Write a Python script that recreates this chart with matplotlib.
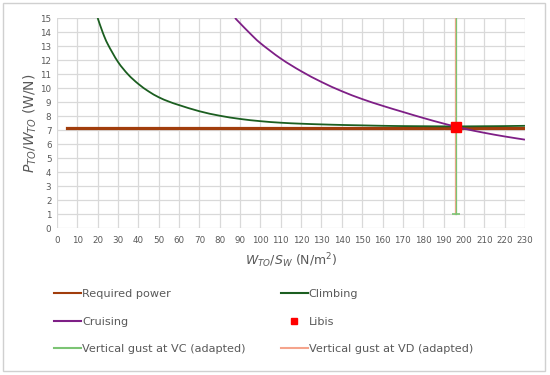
import matplotlib
matplotlib.use("Agg")
from matplotlib import pyplot as plt
from matplotlib.lines import Line2D
from matplotlib.patches import Rectangle, PathPatch
from matplotlib.path import Path

# data
req_x = [5, 230]
req_y = [7.15, 7.15]

climb_x = [20, 22.5, 25, 30, 35, 40, 45, 50, 55, 60, 70, 80, 90, 100, 110, 120,
           130, 140, 150, 160, 170, 180, 190, 200, 210, 220, 230]
climb_y = [15.0, 13.96, 13.12, 11.86, 10.96, 10.29, 9.76, 9.34, 9.03, 8.78,
           8.34, 8.02, 7.79, 7.63, 7.52, 7.45, 7.40, 7.36, 7.33, 7.30, 7.28,
           7.27, 7.26, 7.26, 7.27, 7.28, 7.30]

cruise_x = [87.5, 90, 95, 100, 110, 120, 130, 140, 150, 160, 170, 180, 190, 200,
            210, 220, 230]
cruise_y = [15.0, 14.62, 13.88, 13.2, 12.1, 11.2, 10.43, 9.77, 9.21, 8.73, 8.29,
            7.86, 7.46, 7.1, 6.8, 6.54, 6.31]

libis_x = [196]
libis_y = [7.2]

vc_x = [196.2, 196.2]
vc_y = [1, 15.5]
vd_x = [195.6, 195.6]
vd_y = [1, 15.5]


def smooth(xs, ys):
    # excel-like smoothed line: bezier through the points
    pts = list(zip(xs, ys))
    verts = [pts[0]]
    codes = [Path.MOVETO]
    for i in range(len(pts) - 1):
        p0 = pts[i - 1] if i > 0 else pts[i]
        p1 = pts[i]
        p2 = pts[i + 1]
        p3 = pts[i + 2] if i + 2 < len(pts) else p2
        c1 = (p1[0] + (p2[0] - p0[0]) / 6, p1[1] + (p2[1] - p0[1]) / 6)
        c2 = (p2[0] - (p3[0] - p1[0]) / 6, p2[1] - (p3[1] - p1[1]) / 6)
        verts += [c1, c2, p2]
        codes += [Path.CURVE4] * 3
    return Path(verts, codes)


fig = plt.figure(figsize=(5.5, 3.75), dpi=100)
ax = fig.add_axes([0.1036, 0.392, 0.8509, 0.56])

grid_c = "#d9d9d9"
txt_c = "#595959"
c_req = "#a13d0c"
c_cl = "#1b5e20"
c_cr = "#7e1f86"
c_vc = "#7cc474"
c_vd = "#f5a48c"

ax.plot(vd_x, vd_y, color=c_vd, lw=0.9, zorder=3)
ax.plot(vc_x, vc_y, color=c_vc, lw=0.9, zorder=3)
ax.plot([vc_x[0]], [vc_y[0]], marker="_", color=c_vc, ms=6, mew=1.2, zorder=3)
ax.plot(req_x, req_y, color=c_req, lw=2.3, zorder=4)
ax.add_patch(PathPatch(smooth(climb_x, climb_y), fill=False, ec=c_cl, lw=1.3, zorder=5))
ax.add_patch(PathPatch(smooth(cruise_x, cruise_y), fill=False, ec=c_cr, lw=1.3, zorder=5))
ax.plot(libis_x, libis_y, "s", color="#ff0000", ms=7, zorder=6)

ax.set_xlim(0, 230)
ax.set_ylim(0, 15)
ax.set_xticks(range(0, 231, 10))
ax.set_yticks(range(0, 16))
ax.grid(True, color=grid_c, lw=0.9)
ax.set_axisbelow(True)
for s in ax.spines.values():
    s.set_visible(False)
ax.tick_params(length=0, labelsize=6.3, labelcolor=txt_c, pad=6)
ax.tick_params(axis="y", pad=4)

ax.set_xlabel(r"$W_{TO}/S_W$ (N/m$^2$)", fontsize=9, color=txt_c, labelpad=4)
ax.set_ylabel(r"$P_{TO}/W_{TO}$ (W/N)", fontsize=10, color=txt_c, labelpad=1)

h_req = Line2D([], [], color=c_req, lw=1.5)
h_cl = Line2D([], [], color=c_cl, lw=1.5)
h_cr = Line2D([], [], color=c_cr, lw=1.5)
h_lb = Line2D([], [], color="#ff0000", marker="s", ls="none", ms=5)
h_vc = Line2D([], [], color=c_vc, lw=1.5)
h_vd = Line2D([], [], color=c_vd, lw=1.5)

leg = fig.legend([h_req, h_cr, h_vc, h_cl, h_lb, h_vd],
                 ["Required power", "Cruising", "Vertical gust at VC (adapted)",
                  "Climbing", "Libis", "Vertical gust at VD (adapted)"],
                 ncol=2, loc="upper left", bbox_to_anchor=(0.08, 0.256),
                 frameon=False, fontsize=8.1, handlelength=2.4,
                 handletextpad=0.1, columnspacing=3.1, labelspacing=1.55)
for t in leg.get_texts():
    t.set_color(txt_c)

fig.patches.append(Rectangle((0.006, 0.01), 0.985, 0.982, transform=fig.transFigure,
                             fill=False, ec="#d0d0d0", lw=1))

fig.savefig("out.png", dpi=100)
